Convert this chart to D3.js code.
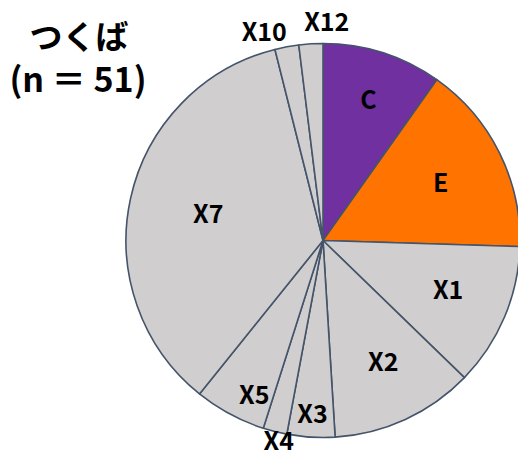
<!DOCTYPE html>
<html>
<head>
<meta charset="utf-8">
<script src="https://cdn.jsdelivr.net/npm/d3@7"></script>
<style>
  html, body { margin: 0; padding: 0; background: #fff; }
  svg { display: block; }
  text { font-family: "Noto Sans CJK JP", "Noto Sans", sans-serif; font-weight: bold; fill: #000; }
</style>
</head>
<body>
<svg id="chart" width="518" height="458"></svg>
<script>
// Respondent counts per category (n = 51), clockwise from 12 o'clock
const categories = ["C", "E", "X1", "X2", "X3", "X4", "X5", "X7", "X10", "X12"];
const counts     = [5, 8, 6, 6, 2, 1, 3, 18, 1, 1];
const sliceColors = ["#7030A0", "#FF7400", "#D0CECE", "#D0CECE", "#D0CECE",
                     "#D0CECE", "#D0CECE", "#D0CECE", "#D0CECE", "#D0CECE"];
// Label placement: radius as a fraction of the pie radius, plus an angular nudge (degrees)
const labelRadius = [0.76, 0.67, 0.68, 0.68, 0.87, 1.03, 0.85, 0.60, 1.11, 1.12];
const labelNudge  = [0, -0.5, -2, -2, 0, -1.5, -4, 1.5, -5, 4.5];
const titleLines = ["つくば", "(n ＝ 51)"];

const svg = d3.select("#chart");
const cx = 323, cy = 240.5, r = 197;

const pie = d3.pie().sort(null).value(d => d.value);
const data = categories.map((c, i) => ({ name: c, value: counts[i], color: sliceColors[i],
  lr: labelRadius[i], nudge: labelNudge[i] }));
const arcs = pie(data);
const arc = d3.arc().innerRadius(0).outerRadius(r);

const g = svg.append("g").attr("transform", `translate(${cx},${cy})`);

g.selectAll("path.slice")
  .data(arcs)
  .join("path")
  .attr("class", "slice")
  .attr("d", arc)
  .attr("fill", d => d.data.color)
  .attr("stroke", "#44546A")
  .attr("stroke-width", 1.6)
  .attr("stroke-linejoin", "round");

g.selectAll("text.lbl")
  .data(arcs)
  .join("text")
  .attr("class", "lbl")
  .attr("x", d => {
    const a = (d.startAngle + d.endAngle) / 2 + d.data.nudge * Math.PI / 180;
    return Math.sin(a) * r * d.data.lr;
  })
  .attr("y", d => {
    const a = (d.startAngle + d.endAngle) / 2 + d.data.nudge * Math.PI / 180;
    return -Math.cos(a) * r * d.data.lr;
  })
  .attr("text-anchor", "middle")
  .attr("dominant-baseline", "central")
  .attr("font-size", 25)
  .text(d => d.data.name);

// Title block
svg.append("text")
  .attr("x", 79).attr("y", 49)
  .attr("text-anchor", "middle")
  .attr("font-size", 33)
  .text(titleLines[0]);
svg.append("text")
  .attr("x", 78).attr("y", 92)
  .attr("text-anchor", "middle")
  .attr("font-size", 34)
  .text(titleLines[1]);
</script>
</body>
</html>
